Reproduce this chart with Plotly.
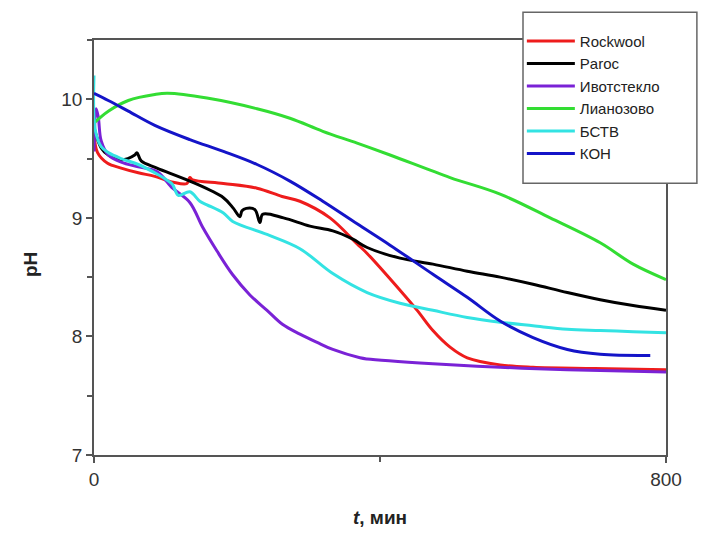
import plotly.graph_objects as go

# ---- data (t in min, pH) ----
rock_t = [0, 5, 19, 38, 62, 85, 111, 130, 134, 138, 181, 228, 263, 288, 330, 368, 382, 428, 452, 474, 498, 522, 568, 614, 700, 800]
rock_y = [9.72, 9.55, 9.46, 9.42, 9.38, 9.35, 9.30, 9.29, 9.34, 9.32, 9.29, 9.25, 9.18, 9.14, 9.00, 8.78, 8.70, 8.39, 8.22, 8.05, 7.91, 7.82, 7.76, 7.74, 7.73, 7.72]

paroc_t = [0, 10, 20, 38, 57, 60, 66, 88, 134, 181, 195, 204, 207, 213, 225, 232, 236, 265, 302, 334, 362, 382, 428, 474, 522, 568, 614, 662, 708, 754, 800]
paroc_y = [9.76, 9.59, 9.53, 9.49, 9.53, 9.55, 9.48, 9.42, 9.31, 9.17, 9.08, 9.01, 9.06, 9.08, 9.07, 8.96, 9.03, 9.00, 8.93, 8.89, 8.82, 8.75, 8.66, 8.61, 8.55, 8.50, 8.44, 8.37, 8.31, 8.26, 8.22]

ivot_t = [0, 3, 6, 10, 20, 38, 62, 88, 110, 134, 152, 172, 194, 218, 242, 264, 288, 312, 334, 372, 382, 474, 568, 662, 800]
ivot_y = [9.56, 9.92, 9.85, 9.65, 9.53, 9.47, 9.43, 9.39, 9.25, 9.13, 8.92, 8.72, 8.52, 8.35, 8.22, 8.10, 8.02, 7.95, 7.89, 7.82, 7.81, 7.77, 7.74, 7.72, 7.70]

lian_t = [0, 20, 48, 85, 103, 158, 228, 274, 320, 368, 414, 498, 568, 638, 708, 754, 800]
lian_y = [9.80, 9.90, 9.99, 10.04, 10.05, 10.01, 9.92, 9.84, 9.73, 9.63, 9.53, 9.34, 9.20, 9.00, 8.79, 8.61, 8.48]

bstv_t = [0, 1.5, 10, 20, 38, 62, 85, 104, 110, 118, 134, 148, 158, 181, 194, 242, 288, 334, 382, 428, 474, 522, 568, 614, 662, 708, 754, 800]
bstv_y = [10.20, 9.75, 9.60, 9.55, 9.50, 9.45, 9.38, 9.31, 9.28, 9.19, 9.22, 9.14, 9.11, 9.04, 8.97, 8.86, 8.74, 8.53, 8.37, 8.28, 8.22, 8.16, 8.12, 8.09, 8.06, 8.05, 8.04, 8.03]

koh_t = [0, 20, 48, 85, 134, 181, 228, 274, 320, 368, 414, 475, 522, 568, 614, 662, 708, 778]
koh_y = [10.05, 9.99, 9.90, 9.78, 9.66, 9.56, 9.45, 9.31, 9.14, 8.95, 8.77, 8.52, 8.33, 8.13, 7.99, 7.89, 7.85, 7.84]

series = [
    ("Rockwool", rock_t, rock_y, "#ee1c1c"),
    ("Paroc", paroc_t, paroc_y, "#000000"),
    ("Ивотстекло", ivot_t, ivot_y, "#7a22d6"),
    ("Лианозово", lian_t, lian_y, "#33dd33"),
    ("БСТВ", bstv_t, bstv_y, "#33e3e3"),
    ("КОН", koh_t, koh_y, "#1414c8"),
]

FONT = "Liberation Sans, Arial"

fig = go.Figure()
for name, t, y, c in series:
    fig.add_trace(go.Scatter(x=t, y=y, mode="lines", name=name,
                             line=dict(color=c, width=3, shape="spline", smoothing=1.0)))

axis_common = dict(showline=True, linecolor="#555555", linewidth=1.5, mirror=True,
                   showgrid=False, zeroline=False, ticks="outside", ticklen=6,
                   tickcolor="#555555", tickwidth=1.5,
                   tickfont=dict(family=FONT, size=19, color="#333333"))

fig.update_layout(
    width=701, height=537,
    margin=dict(l=94, r=35, t=40, b=77),
    plot_bgcolor="white", paper_bgcolor="white",
    showlegend=True,
    legend=dict(x=0.748, y=1.037, xanchor="left", yanchor="top",
                bgcolor="rgba(0,0,0,0)", borderwidth=0,
                font=dict(family=FONT, size=15, color="#222222"),
                itemwidth=48, tracegroupgap=0),
    xaxis=dict(range=[0, 800], tickvals=[0, 800],
               minor=dict(ticks="outside", tick0=0, dtick=400, ticklen=5,
                          tickcolor="#555555", tickwidth=1.5),
               title=dict(text="<b><i>t</i>, мин</b>", standoff=22,
                          font=dict(family=FONT, size=19, color="#222222")),
               **axis_common),
    yaxis=dict(range=[7, 10.5], tickvals=[7, 8, 9, 10],
               minor=dict(ticks="outside", tick0=7, dtick=0.5, ticklen=5,
                          tickcolor="#555555", tickwidth=1.5),
               **axis_common),
    shapes=[dict(type="rect", xref="paper", yref="paper",
                 x0=0.75, x1=1.054, y0=0.655, y1=1.067,
                 line=dict(color="#666666", width=1.5), fillcolor="white", layer="above")],
    annotations=[dict(text="<b>pH</b>", xref="paper", yref="paper",
                      x=-0.112, y=0.46, xanchor="center", yanchor="middle",
                      textangle=-90, showarrow=False,
                      font=dict(family=FONT, size=19, color="#222222"))],
)

fig.write_html("out.html")
